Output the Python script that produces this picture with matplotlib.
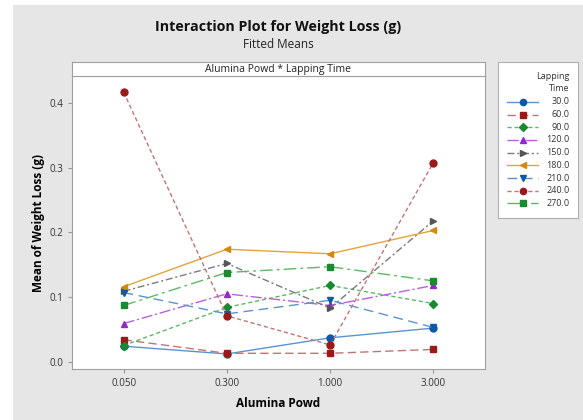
import matplotlib
matplotlib.use("Agg")
import matplotlib.pyplot as plt
from matplotlib.patches import Rectangle
from matplotlib.lines import Line2D

plt.rcParams['font.family'] = ['Open Sans', 'DejaVu Sans']

# data
powd = ['0.050', '0.300', '1.000', '3.000']
lapping = ['30.0', '60.0', '90.0', '120.0', '150.0', '180.0', '210.0', '240.0', '270.0']
t30 = [0.024, 0.012, 0.037, 0.052]
t60 = [0.034, 0.013, 0.013, 0.019]
t90 = [0.025, 0.084, 0.118, 0.090]
t120 = [0.059, 0.105, 0.087, 0.118]
t150 = [0.109, 0.152, 0.083, 0.218]
t180 = [0.116, 0.174, 0.167, 0.203]
t210 = [0.107, 0.074, 0.095, 0.053]
t240 = [0.417, 0.071, 0.026, 0.308]
t270 = [0.087, 0.138, 0.147, 0.125]
means = [t30, t60, t90, t120, t150, t180, t210, t240, t270]

# (line colour, marker colour, marker, marker size, dashes)
styles = [
    ('#5b93d0', '#0b5aa8', 'o', 5, None),
    ('#c47474', '#9a1a1a', 's', 4.5, (6, 3)),
    ('#5cb866', '#1a8a30', 'D', 4, (3, 2)),
    ('#b860e0', '#9428c8', '^', 5, (8, 2, 1.5, 2)),
    ('#7a7a7a', '#555555', '>', 5, (5, 2, 1.5, 2)),
    ('#e3a43c', '#d38a0c', '<', 5, None),
    ('#5b93d0', '#0b5aa8', 'v', 5, (7, 4)),
    ('#c47474', '#9a1a1a', 'o', 5, (3, 2)),
    ('#5cb866', '#1a8a30', 's', 4.5, (9, 3, 2, 3)),
]

fig = plt.figure(figsize=(5.83, 4.2), dpi=100)
fig.patch.set_facecolor('white')
fig.patches.append(Rectangle((13 / 583, 0), 1, 1 - 5 / 420, transform=fig.transFigure,
                             facecolor='#e6e6e6', edgecolor='none', zorder=-10))

ax = fig.add_axes([0.1235, 0.1214, 0.7084, 0.6976])
ax.set_facecolor('white')
xs = list(range(len(powd)))
for vals, (lc, mc, mk, ms, ds) in zip(means, styles):
    ln, = ax.plot(xs, vals, color=lc, lw=1.0, marker=mk, ms=ms, mfc=mc, mec=mc)
    if ds is not None:
        ln.set_dashes(ds)

ax.set_xlim(-0.5, 3.5)
ax.set_ylim(-0.0113, 0.442)
ax.set_xticks(xs)
ax.set_xticklabels(powd)
ax.set_yticks([0.0, 0.1, 0.2, 0.3, 0.4])
ax.set_yticklabels(['0.0', '0.1', '0.2', '0.3', '0.4'])
ax.tick_params(labelsize=7, colors='#999999', labelcolor='#333333', length=3, width=0.8)
for s in ax.spines.values():
    s.set_color('#a0a0a0')
ax.spines['top'].set_color('#c8c8c8')
ax.set_xlabel('Alumina Powd', fontsize=8.5, fontweight='bold', labelpad=6)
ax.set_ylabel('Mean of Weight Loss (g)', fontsize=8.5, fontweight='bold', labelpad=3)

# strip above panel
strip = fig.add_axes([0.1235, 0.819, 0.7084, 0.0333])
strip.set_xticks([])
strip.set_yticks([])
strip.set_facecolor('white')
for s in strip.spines.values():
    s.set_color('#a0a0a0')
strip.text(0.5, 0.45, 'Alumina Powd * Lapping Time', ha='center', va='center',
           fontsize=7.5, color='#222222', transform=strip.transAxes)

fig.text(0.4777, 0.935, 'Interaction Plot for Weight Loss (g)', ha='center', va='center',
         fontsize=10.3, fontweight='bold', color='#111111')
fig.text(0.4777, 0.893, 'Fitted Means', ha='center', va='center', fontsize=8.5, color='#222222')

# legend box
lax = fig.add_axes([0.854, 0.481, 0.137, 0.371])
lax.set_xlim(0, 1)
lax.set_ylim(0, 1)
lax.set_xticks([])
lax.set_yticks([])
lax.set_facecolor('white')
for s in lax.spines.values():
    s.set_color('#b0b0b0')
lax.text(0.9, 0.905, 'Lapping', ha='right', va='center', fontsize=6.5, color='#333333')
lax.text(0.9, 0.83, 'Time', ha='right', va='center', fontsize=6.5, color='#333333')
for i, (lab, (lc, mc, mk, ms, ds)) in enumerate(zip(lapping, styles)):
    yy = 0.745 - i * 0.0815
    ln = Line2D([0.12, 0.5], [yy, yy], color=lc, lw=1.0)
    if ds is not None:
        ln.set_dashes(ds)
    lax.add_line(ln)
    lax.plot([0.31], [yy], marker=mk, ms=ms * 0.9, mfc=mc, mec=mc, color=mc)
    lax.text(0.9, yy, lab, ha='right', va='center', fontsize=6.5, color='#333333')

fig.savefig('out.png', dpi=100)
